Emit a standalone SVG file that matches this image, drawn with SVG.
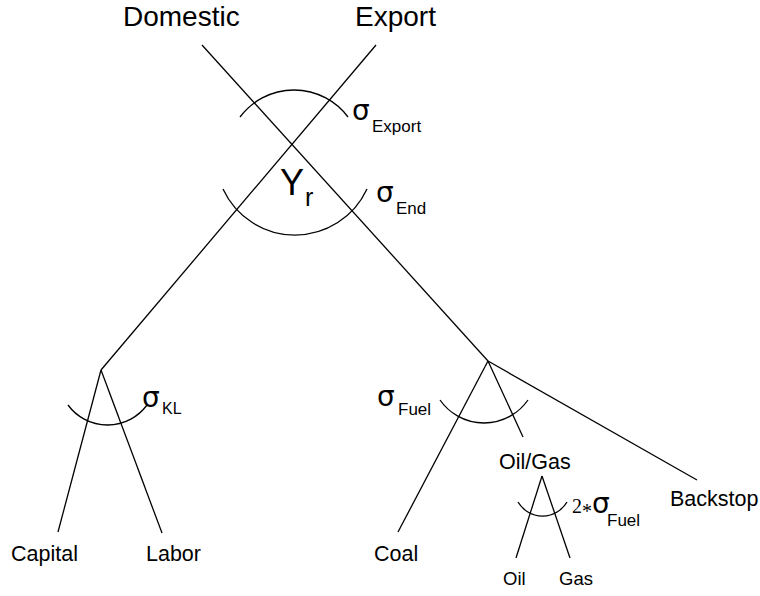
<svg xmlns="http://www.w3.org/2000/svg" width="760" height="596" viewBox="0 0 760 596">
<style>
  .ln { stroke: #000; stroke-width: 1.3; fill: none; }
  .t { font-family: "Liberation Sans", Arial, sans-serif; fill: #000; }
  .lbl { font-size: 21.5px; }
  .big { font-size: 28px; }
  .sig { font-family: "DejaVu Sans", sans-serif; font-size: 28px; }
  .sub { font-family: "Liberation Sans", Arial, sans-serif; font-size: 17px; }
  .ser { font-family: "Liberation Serif", "DejaVu Serif", serif; font-size: 20px; }
</style>
<rect width="760" height="596" fill="#fff"/>
<g id="connectors">
  <line class="ln" x1="202" y1="45" x2="488" y2="361"/>
  <line class="ln" x1="376" y1="45" x2="101" y2="370"/>
  <line class="ln" x1="101" y1="370" x2="58" y2="532"/>
  <line class="ln" x1="101" y1="370" x2="162" y2="533"/>
  <line class="ln" x1="488" y1="361" x2="398" y2="532"/>
  <line class="ln" x1="488" y1="361" x2="523" y2="437"/>
  <line class="ln" x1="488" y1="361" x2="697" y2="480"/>
  <line class="ln" x1="542" y1="476" x2="516" y2="558"/>
  <line class="ln" x1="542" y1="476" x2="570" y2="558"/>
</g>
<g id="domestic"><text class="t big" x="123" y="26">Domestic</text></g>
<g id="export"><text class="t big" x="355" y="26">Export</text></g>
<g id="export-nest">
  <path class="ln" d="M240,117 A67.5,67.5 0 0 1 348,117"/>
  <text class="t" x="352" y="120"><tspan class="sig">σ</tspan><tspan class="sub" x="372" dy="12">Export</tspan></text>
</g>
<g id="yr">
  <text class="t" font-size="36" x="280" y="195">Y<tspan font-size="25" x="305" dy="11">r</tspan></text>
  <path class="ln" d="M223,189 A79.3,79.3 0 0 0 367,189"/>
  <text class="t" x="376" y="202"><tspan class="sig">σ</tspan><tspan class="sub" x="396" dy="12">End</tspan></text>
</g>
<g id="kl">
  <path class="ln" d="M68,405 A49,49 0 0 0 147,405"/>
  <text class="t" x="142" y="407"><tspan class="sig">σ</tspan><tspan font-size="16" x="162" dy="7">KL</tspan></text>
</g>
<g id="fuel">
  <path class="ln" d="M440,400 A53.6,53.6 0 0 0 528,400"/>
  <text class="t" x="377" y="406"><tspan class="sig">σ</tspan><tspan class="sub" x="398" dy="9">Fuel</tspan></text>
</g>
<g id="capital"><text class="t lbl" x="11" y="560.5">Capital</text></g>
<g id="labor"><text class="t lbl" x="146" y="560.5">Labor</text></g>
<g id="coal"><text class="t lbl" x="374" y="561">Coal</text></g>
<g id="backstop"><text class="t lbl" x="670" y="506">Backstop</text></g>
<g id="oilgas">
  <text class="t lbl" x="499" y="469">Oil/Gas</text>
  <path class="ln" d="M518,502 A28.4,28.4 0 0 0 567,502"/>
  <text class="t" x="572" y="513"><tspan class="ser">2</tspan><tspan class="ser" dy="5">*</tspan><tspan class="sig" font-size="24" x="592" dy="-5">σ</tspan><tspan class="sub" x="607" dy="13">Fuel</tspan></text>
</g>
<g id="oil"><text class="t" font-size="18.5" x="503" y="585">Oil</text></g>
<g id="gas"><text class="t" font-size="18.5" x="559" y="585">Gas</text></g>
</svg>
